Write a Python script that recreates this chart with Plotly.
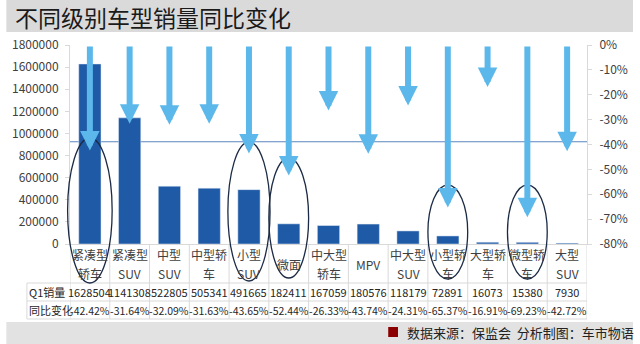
import plotly.graph_objects as go

# ---------------- data ----------------
categories = ["紧凑型轿车", "紧凑型SUV", "中型SUV", "中型轿车", "小型SUV", "微面",
              "中大型轿车", "MPV", "中大型SUV", "小型轿车", "大型轿车", "微型轿车", "大型SUV"]
label_lines = [["紧凑型", "轿车"], ["紧凑型", "SUV"], ["中型", "SUV"], ["中型轿", "车"],
               ["小型", "SUV"], ["微面"], ["中大型", "轿车"], ["MPV"], ["中大型", "SUV"],
               ["小型轿", "车"], ["大型轿", "车"], ["微型轿", "车"], ["大型", "SUV"]]
q1_sales = [1628504, 1141308, 522805, 505341, 491665, 182411, 167059, 180576,
            118179, 72891, 16073, 15380, 7930]
yoy_change = [-0.4242, -0.3164, -0.3209, -0.3163, -0.4365, -0.5244, -0.2633, -0.4374,
              -0.2431, -0.6537, -0.1691, -0.6923, -0.4272]
overall_change = -0.389
left_ticks = [0, 200000, 400000, 600000, 800000, 1000000, 1200000, 1400000, 1600000, 1800000]
right_ticks = [0, -0.1, -0.2, -0.3, -0.4, -0.5, -0.6, -0.7, -0.8]
right_ticktext = ["0%", "-10%", "-20%", "-30%", "-40%", "-50%", "-60%", "-70%", "-80%"]
highlighted = ["紧凑型轿车", "小型SUV", "微面", "小型轿车", "微型轿车"]

# ---------------- layout helpers (pixel -> paper) ----------------
W, H = 640, 344
ML, MR, MT, MB = 65, 47, 45, 100
PW, PH = W - ML - MR, H - MT - MB


def px(xp):
    return (xp - ML) / PW


def py(yp):
    return (H - MB - yp) / PH


FONT = "Noto Sans CJK SC, Microsoft YaHei, sans-serif"
BAR_COLOR = "#1F5AA6"
ARROW_COLOR = "#5CB8EA"
GRID = "#D9D9D9"
TXT = "#262626"

fig = go.Figure()
fig.add_trace(go.Bar(x=categories, y=q1_sales, width=0.56, marker_color=BAR_COLOR,
                     yaxis="y", hoverinfo="skip", showlegend=False))
fig.add_trace(go.Scatter(x=categories, y=yoy_change, mode="markers", marker=dict(opacity=0),
                         yaxis="y2", hoverinfo="skip", showlegend=False))

annotations = []
shapes = []

# arrows from 0% down to each change value
for c, v in zip(categories, yoy_change):
    annotations.append(dict(x=c, y=v, xref="x", yref="y2", ax=c, ay=0, axref="x", ayref="y2",
                            text="", showarrow=True, arrowhead=2, arrowwidth=6, arrowsize=0.65,
                            arrowcolor=ARROW_COLOR, standoff=0))

# overall change line
shapes.append(dict(type="line", xref="paper", x0=0, x1=1, yref="y2", y0=overall_change,
                   y1=overall_change, line=dict(color="#5A86BF", width=1), layer="below"))


def table_text(x, xref, ypix, text, size, color, xanchor="center"):
    return dict(x=x, xref=xref, y=py(ypix), yref="paper", text=text, showarrow=False,
                xanchor=xanchor, yanchor="middle", font=dict(size=size, color=color, family=FONT))


# table text
for i, (c, lines) in enumerate(zip(categories, label_lines)):
    if len(lines) == 2:
        annotations.append(table_text(c, "x", 255, lines[0], 12, "#404040"))
        annotations.append(table_text(c, "x", 273, lines[1], 12, "#404040"))
    else:
        annotations.append(table_text(c, "x", 264, lines[0], 12, "#404040"))
    annotations.append(table_text(c, "x", 292, str(q1_sales[i]), 11, TXT))
    annotations.append(table_text(c, "x", 310, f"{yoy_change[i] * 100:.2f}%", 10.5, TXT))

annotations.append(table_text(px(21), "paper", 292, "Q1销量", 11, TXT, "left"))
annotations.append(table_text(px(21), "paper", 310, "同比变化", 11, TXT, "left"))

# table grid
for k in range(len(categories) + 1):
    shapes.append(dict(type="line", xref="x", x0=k - 0.5, x1=k - 0.5, yref="paper",
                       y0=0, y1=py(319), line=dict(color=GRID, width=1)))
shapes.append(dict(type="line", xref="paper", x0=px(21), x1=px(21), yref="paper",
                   y0=py(283), y1=py(319), line=dict(color=GRID, width=1)))
for yy in (283, 301, 319):
    shapes.append(dict(type="line", xref="paper", x0=px(21), x1=1, yref="paper",
                       y0=py(yy), y1=py(yy), line=dict(color=GRID, width=1)))

# ellipses around highlighted categories
ellipse_geom = {"紧凑型轿车": (0.56, 138, 283), "小型SUV": (0.53, 142, 281), "微面": (0.5, 158, 278),
                "小型轿车": (0.5, 185, 279), "微型轿车": (0.5, 185, 279)}
for c in highlighted:
    i = categories.index(c)
    hw, top, bot = ellipse_geom[c]
    shapes.append(dict(type="circle", xref="paper", x0=px(ML + (i + 0.5 - hw) * PW / len(categories)),
                       x1=px(ML + (i + 0.5 + hw) * PW / len(categories)), yref="paper",
                       y0=py(bot), y1=py(top), line=dict(color="#1C2B45", width=1.3),
                       fillcolor="rgba(0,0,0,0)", layer="above"))

# title bar
shapes.append(dict(type="rect", xref="paper", yref="paper", x0=px(0), x1=px(W), y0=py(32), y1=py(0),
                   fillcolor="#DADADA", line=dict(width=0), layer="below"))
annotations.append(dict(x=px(7), xref="paper", y=py(17), yref="paper", text="不同级别车型销量同比变化",
                        xanchor="left", yanchor="middle", showarrow=False,
                        font=dict(size=23, color="#1A1A1A", family=FONT)))

# footer bar
shapes.append(dict(type="rect", xref="paper", yref="paper", x0=px(0), x1=px(W), y0=py(H), y1=py(322),
                   fillcolor="#E2E2E2", line=dict(width=0), layer="below"))
shapes.append(dict(type="rect", xref="paper", yref="paper", x0=px(390), x1=px(400), y0=py(337),
                   y1=py(327), fillcolor="#8B0000", line=dict(width=0)))
annotations.append(dict(x=px(407), xref="paper", y=py(332), yref="paper",
                        text="数据来源：保监会  分析制图：车市物语", xanchor="left", yanchor="middle",
                        showarrow=False, font=dict(size=13, color="#222222", family=FONT)))

fig.update_layout(
    width=W, height=H, autosize=False,
    margin=dict(l=ML, r=MR, t=MT, b=MB, pad=0),
    paper_bgcolor="white", plot_bgcolor="white",
    font=dict(family=FONT, size=12, color="#404040"),
    showlegend=False,
    xaxis=dict(type="category", range=[-0.5, len(categories) - 0.5], showticklabels=False,
               showgrid=False, zeroline=False, showline=True, linecolor=GRID, ticks=""),
    yaxis=dict(range=[0, 1800000], tickvals=left_ticks, ticktext=[str(t) for t in left_ticks],
               showgrid=False, zeroline=False, showline=True, linecolor=GRID, ticks="outside",
               ticklen=4, tickcolor=GRID, ticklabelstandoff=4,
               tickfont=dict(size=12, color="#404040", family=FONT)),
    yaxis2=dict(range=[-0.8, 0], overlaying="y", side="right", tickvals=right_ticks,
                ticktext=right_ticktext, showgrid=False, zeroline=False, showline=True,
                linecolor=GRID, ticks="outside", ticklen=4, tickcolor=GRID, ticklabelstandoff=5,
                tickfont=dict(size=12, color="#404040", family=FONT)),
    annotations=annotations, shapes=shapes,
)

fig.write_html("out.html")
